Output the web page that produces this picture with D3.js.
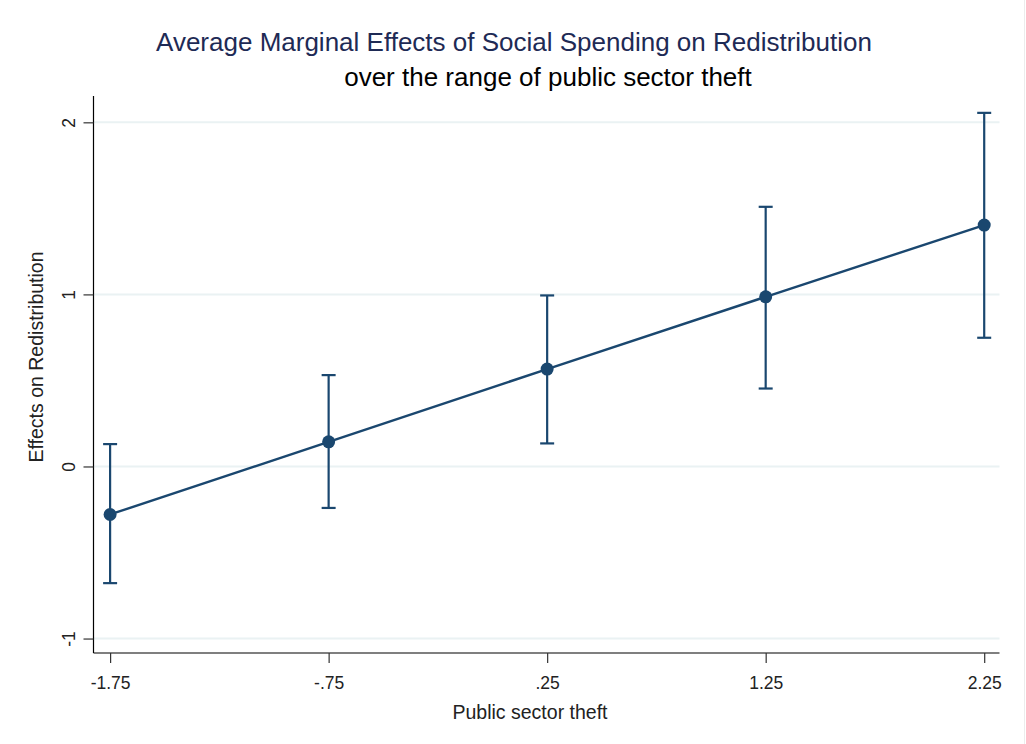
<!DOCTYPE html>
<html>
<head>
<meta charset="utf-8">
<script src="https://cdn.jsdelivr.net/npm/d3@7"></script>
<style>
  html, body { margin: 0; padding: 0; background: #fff; }
  svg { display: block; font-family: "Liberation Sans", Arial, sans-serif; }
</style>
</head>
<body>
<svg id="chart" width="1026" height="744"></svg>
<script>
// Values of public sector theft at which the marginal effect is evaluated
const theft = [-1.75, -0.75, 0.25, 1.25, 2.25];
// Average marginal effect and its 95% confidence bounds
const effect = [-0.279, 0.143, 0.566, 0.986, 1.403];
const lower  = [-0.678, -0.241, 0.134, 0.453, 0.748];
const upper  = [0.130, 0.531, 0.994, 1.509, 2.055];
// Axis tick values and labels
const xTicks = [-1.75, -0.75, 0.25, 1.25, 2.25];
const xTickLabels = ["-1.75", "-.75", ".25", "1.25", "2.25"];
const yTicks = [-1, 0, 1, 2];
const yTickLabels = ["-1", "0", "1", "2"];

const svg = d3.select("#chart");
const W = 1026, H = 744;
const plot = { left: 93.5, right: 999.5, top: 96, bottom: 653 };
const navy = "#1a476f";

const x = d3.scaleLinear().domain([-1.826, 2.320]).range([plot.left, plot.right]);
const y = d3.scaleLinear().domain([-1.084, 2.153]).range([plot.bottom, plot.top]);

// faint frame edge on the right
svg.append("line").attr("x1", 1024.5).attr("x2", 1024.5).attr("y1", 0).attr("y2", H)
  .attr("stroke", "#ececec").attr("stroke-width", 1);

// horizontal grid lines
svg.append("g").selectAll("line").data(yTicks).join("line")
  .attr("x1", plot.left).attr("x2", plot.right)
  .attr("y1", d => y(d)).attr("y2", d => y(d))
  .attr("stroke", "#eaf2f3").attr("stroke-width", 2);

// y axis
const yAxis = d3.axisLeft(y).tickValues(yTicks)
  .tickFormat((d, i) => yTickLabels[i]).tickSize(10).tickPadding(6);
const gy = svg.append("g").attr("transform", `translate(${plot.left},0)`).call(yAxis);
gy.select(".domain").attr("d", `M0,${plot.top}V${plot.bottom}`).attr("stroke", "#000").attr("stroke-width", 1.2);
gy.selectAll(".tick line").attr("stroke", "#333").attr("stroke-width", 1.2);
gy.selectAll(".tick text")
  .attr("font-size", 17.5).attr("fill", "#222")
  .attr("text-anchor", "middle")
  .attr("transform", "translate(-25,0) rotate(-90)")
  .attr("x", 0).attr("dy", "0.35em");

// x axis
const xAxis = d3.axisBottom(x).tickValues(xTicks)
  .tickFormat((d, i) => xTickLabels[i]).tickSize(10).tickPadding(14);
const gx = svg.append("g").attr("transform", `translate(0,${plot.bottom})`).call(xAxis);
gx.select(".domain").attr("d", `M${plot.left},0H${plot.right}`).attr("stroke", "#000").attr("stroke-width", 1.2);
gx.selectAll(".tick line").attr("stroke", "#333").attr("stroke-width", 1.2);
gx.selectAll(".tick text").attr("font-size", 17.5).attr("fill", "#222");

// axis titles
svg.append("text").attr("x", 530).attr("y", 719).attr("text-anchor", "middle")
  .attr("font-size", 19.5).attr("fill", "#222").text("Public sector theft");
svg.append("text").attr("transform", "translate(43,357) rotate(-90)")
  .attr("text-anchor", "middle").attr("font-size", 19.5).attr("fill", "#222")
  .text("Effects on Redistribution");

// chart titles
svg.append("text").attr("x", 514).attr("y", 51).attr("text-anchor", "middle")
  .attr("font-size", 26).attr("fill", "#1e2a55")
  .text("Average Marginal Effects of Social Spending on Redistribution");
svg.append("text").attr("x", 548).attr("y", 86).attr("text-anchor", "middle")
  .attr("font-size", 26).attr("fill", "#000")
  .text("over the range of public sector theft");

const data = theft.map((t, i) => ({ t, e: effect[i], lo: lower[i], hi: upper[i] }));

// confidence intervals
const ci = svg.append("g").attr("stroke", navy).attr("stroke-width", 2.2).attr("fill", "none");
ci.selectAll("line.v").data(data).join("line").attr("class", "v")
  .attr("x1", d => x(d.t)).attr("x2", d => x(d.t))
  .attr("y1", d => y(d.lo)).attr("y2", d => y(d.hi));
ci.selectAll("line.cap-hi").data(data).join("line").attr("class", "cap-hi")
  .attr("x1", d => x(d.t) - 7).attr("x2", d => x(d.t) + 7)
  .attr("y1", d => y(d.hi)).attr("y2", d => y(d.hi));
ci.selectAll("line.cap-lo").data(data).join("line").attr("class", "cap-lo")
  .attr("x1", d => x(d.t) - 7).attr("x2", d => x(d.t) + 7)
  .attr("y1", d => y(d.lo)).attr("y2", d => y(d.lo));

// connecting line
svg.append("path").datum(data)
  .attr("d", d3.line().x(d => x(d.t)).y(d => y(d.e)))
  .attr("fill", "none").attr("stroke", navy).attr("stroke-width", 2.4);

// point estimates
svg.append("g").selectAll("circle").data(data).join("circle")
  .attr("cx", d => x(d.t)).attr("cy", d => y(d.e)).attr("r", 6.5)
  .attr("fill", navy);
</script>
</body>
</html>
